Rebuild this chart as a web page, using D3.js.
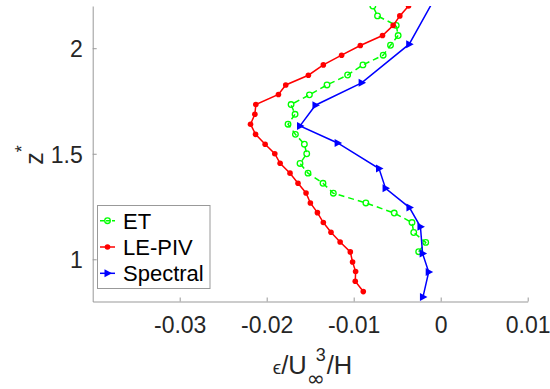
<!DOCTYPE html>
<html>
<head>
<meta charset="utf-8">
<script src="https://cdn.jsdelivr.net/npm/d3@7"></script>
<style>
  body { margin: 0; background: #fff; }
  svg { display: block; font-family: "Liberation Sans", Arial, Helvetica, sans-serif; }
</style>
</head>
<body>
<svg id="chart" width="550" height="389"></svg>
<script>
// dissipation profiles
var etZ   = [1.036, 1.080, 1.127, 1.174, 1.219, 1.267, 1.313, 1.360, 1.408, 1.454, 1.500, 1.545, 1.592,
             1.640, 1.687, 1.733, 1.779, 1.826, 1.873, 1.921, 1.967, 2.014, 2.060, 2.108, 2.153, 2.200];
var etEps = [-0.00253, -0.00172, -0.0031, -0.0033, -0.00534, -0.0086, -0.01234, -0.01353, -0.01525, -0.01617,
             -0.0154, -0.01567, -0.0167, -0.01755, -0.01674, -0.0172, -0.01509, -0.01307, -0.0107, -0.00894,
             -0.00661, -0.00577, -0.00489, -0.00511, -0.00726, -0.0078];

var pivZ   = [0.847, 0.896, 0.942, 0.987, 1.035, 1.082, 1.128, 1.174, 1.221, 1.267, 1.314, 1.360, 1.408, 1.455,
              1.500, 1.545, 1.592, 1.640, 1.687, 1.733, 1.781, 1.826, 1.872, 1.921, 1.967, 2.013, 2.060, 2.108,
              2.153, 2.200, 2.247];
var pivEps = [-0.0089, -0.00982, -0.00978, -0.01013, -0.01039, -0.01156, -0.01261, -0.01349, -0.01417, -0.01498,
              -0.01548, -0.0164, -0.01732, -0.01846, -0.01907, -0.02018, -0.02128, -0.02186, -0.02136, -0.02125,
              -0.01865, -0.01781, -0.01521, -0.01349, -0.01139, -0.00924, -0.00669, -0.00546, -0.0047, -0.0037,
              -0.0029];

var specZ   = [0.821, 0.940, 1.027, 1.154, 1.245, 1.336, 1.430, 1.551, 1.632, 1.730, 1.836, 2.019, 2.250];
var specEps = [-0.00204, -0.00138, -0.00208, -0.00233, -0.00359, -0.00634, -0.00709, -0.01185, -0.01617,
               -0.0144, -0.00909, -0.00362, -0.0005];

var xTicks = [-0.03, -0.02, -0.01, 0, 0.01];
var yTicks = [1, 1.5, 2];
var legendNames = ["ET", "LE-PIV", "Spectral"];

var svg = d3.select("#chart");
var textColor = "#262626", axisColor = "#999999";

var x = d3.scaleLinear().domain([-0.04, 0.01]).range([92.7, 527.7]);
var y = d3.scaleLinear().domain([0.8, 2.2]).range([301.5, 6]);

svg.append("clipPath").attr("id", "plotClip")
    .append("rect")
    .attr("x", x.range()[0]).attr("y", y.range()[1])
    .attr("width", x.range()[1] - x.range()[0])
    .attr("height", y.range()[0] - y.range()[1]);

// axes
var xAxis = svg.append("g")
    .attr("transform", "translate(0," + y.range()[0] + ")")
    .call(d3.axisBottom(x).tickValues(xTicks).tickSizeInner(-4).tickSizeOuter(0)
        .tickFormat(function(d) { return String(d); }));
xAxis.selectAll("text").attr("y", 31.2).attr("dy", null)
    .attr("font-size", 23).attr("fill", textColor).attr("font-family", null);

var yAxis = svg.append("g")
    .attr("transform", "translate(" + x.range()[0] + ",0)")
    .call(d3.axisLeft(y).tickValues(yTicks).tickSizeInner(-4).tickSizeOuter(0)
        .tickFormat(function(d) { return String(d); }));
yAxis.selectAll("text").attr("x", -10).attr("dy", "0.36em")
    .attr("font-size", 23).attr("fill", textColor).attr("font-family", null);

svg.selectAll(".domain, .tick line").attr("stroke", axisColor).attr("stroke-width", 1);

// series
var series = [
    { name: legendNames[0], z: etZ, eps: etEps, color: "#00ff00", dash: "6,4", marker: "circle" },
    { name: legendNames[1], z: pivZ, eps: pivEps, color: "#ff0000", dash: null, marker: "dot" },
    { name: legendNames[2], z: specZ, eps: specEps, color: "#0000ff", dash: null, marker: "tri" }
];

var line = d3.line()
    .x(function(d) { return x(d[0]); })
    .y(function(d) { return y(d[1]); });

function drawMarker(g, type, color, cx, cy) {
    if (type === "circle") {
        g.append("circle").attr("cx", cx).attr("cy", cy).attr("r", 2.8)
            .attr("fill", "none").attr("stroke", color).attr("stroke-width", 1.3);
    } else if (type === "dot") {
        g.append("circle").attr("cx", cx).attr("cy", cy).attr("r", 2.8).attr("fill", color);
    } else {
        g.append("path")
            .attr("d", "M" + (cx + 4.5) + "," + cy + "L" + (cx - 3) + "," + (cy - 4) + "L" + (cx - 3) + "," + (cy + 4) + "Z")
            .attr("fill", color);
    }
}

var plot = svg.append("g").attr("clip-path", "url(#plotClip)");

series.forEach(function(s) {
    var pts = s.z.map(function(z, i) { return [s.eps[i], z]; });
    plot.append("path")
        .attr("d", line(pts))
        .attr("fill", "none")
        .attr("stroke", s.color)
        .attr("stroke-width", 1.5)
        .attr("stroke-dasharray", s.dash);
    var mg = plot.append("g");
    pts.forEach(function(p) { drawMarker(mg, s.marker, s.color, x(p[0]), y(p[1])); });
});

// legend
var legend = svg.append("g");
legend.append("rect")
    .attr("x", 97.5).attr("y", 205.5).attr("width", 112.5).attr("height", 83)
    .attr("fill", "#fff").attr("stroke", axisColor).attr("stroke-width", 1);

series.forEach(function(s, i) {
    var ly = 220.7 + i * 26.3;
    legend.append("line")
        .attr("x1", 100).attr("x2", 115).attr("y1", ly).attr("y2", ly)
        .attr("stroke", s.color).attr("stroke-width", 1.5)
        .attr("stroke-dasharray", s.dash ? "4,2" : null);
    drawMarker(legend, s.marker, s.color, 107.5, ly);
    legend.append("text")
        .attr("x", 123).attr("y", ly).attr("dy", "0.36em")
        .attr("font-size", 22).attr("fill", "#000")
        .text(s.name);
});

// x label: eps / U_inf^3 / H
var xl = svg.append("g").attr("fill", textColor);
var xlBase = 373.5;
function addPart(txt, size, dyOff, family) {
    return xl.append("text").attr("font-size", size).attr("y", xlBase + dyOff)
        .attr("font-family", family || null).text(txt);
}
var pEps = addPart("\u03f5", 19, 0);
var pU = addPart("/U", 25.5, 0);
var pSup = addPart("3", 18, -13);
var pSub = addPart("\u221e", 22, 12, "DejaVu Sans");
var pH = addPart("/H", 25.5, 0);

var wEps = pEps.node().getComputedTextLength();
var wU = pU.node().getComputedTextLength();
var wSup = pSup.node().getComputedTextLength();
var wSub = pSub.node().getComputedTextLength();
var wH = pH.node().getComputedTextLength();
var wScript = Math.max(wSup + 9, wSub);
var total = wEps + wU + wScript + wH;
var start = 312 - total / 2;
pEps.attr("x", start);
pU.attr("x", start + wEps);
pSub.attr("x", start + wEps + wU);
pSup.attr("x", start + wEps + wU + 9);
pH.attr("x", start + wEps + wU + wScript + 1);

// y label: z*
var yl = svg.append("text")
    .attr("transform", "translate(43,155) rotate(-90)")
    .attr("text-anchor", "middle")
    .attr("fill", textColor)
    .attr("font-size", 25);
yl.append("tspan").text("z");
yl.append("tspan").attr("font-size", 18).attr("dy", -15).text("*");
</script>
</body>
</html>
